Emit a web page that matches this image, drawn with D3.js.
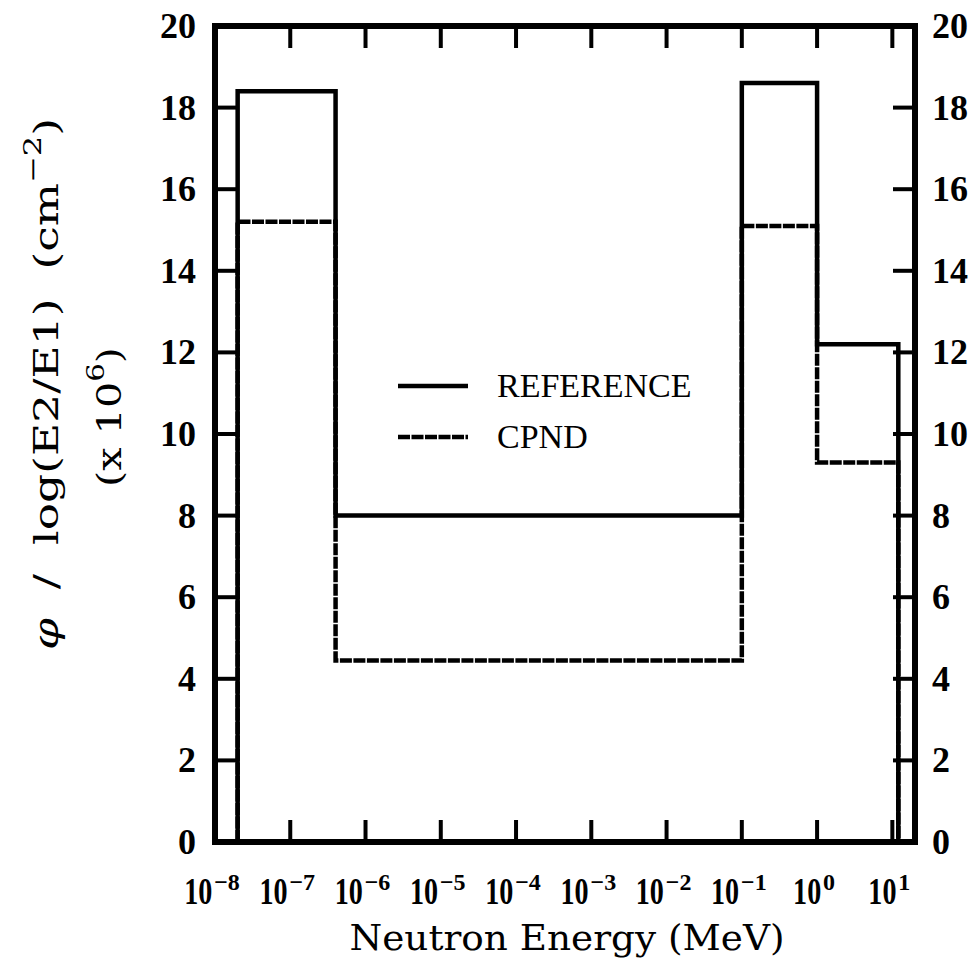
<!DOCTYPE html>
<html>
<head>
<meta charset="utf-8">
<script src="https://cdn.jsdelivr.net/npm/d3@7"></script>
<style>
    body { margin: 0; background: #fff; }
    svg { display: block; }
</style>
</head>
<body>
<svg id="chart" width="980" height="971"></svg>
<script>
// energy group boundaries (MeV) and fluence per unit lethargy (x 10^6 cm^-2)
var binEdges = [2e-8, 4e-7, 0.1, 1, 12];
var referenceValues = [18.4, 8.0, 18.6, 12.2];
var cpndValues = [15.2, 4.45, 15.1, 9.3];
var xTickExponents = [-8, -7, -6, -5, -4, -3, -2, -1, 0, 1];
var yTicks = [0, 2, 4, 6, 8, 10, 12, 14, 16, 18, 20];
var seriesNames = ["REFERENCE", "CPND"];

var svg = d3.select("#chart");
var plotLeft = 215, plotRight = 915, plotTop = 26, plotBottom = 842;

var x = d3.scaleLog().domain([1e-8, 20]).range([plotLeft, plotRight]);
var y = d3.scaleLinear().domain([0, 20]).range([plotBottom, plotTop]);

//histogram step outline
function stepPoints(values) {
    var pts = [[binEdges[0], 0]];
    for (var i = 0; i < values.length; i++) {
        pts.push([binEdges[i], values[i]]);
        pts.push([binEdges[i + 1], values[i]]);
    }
    pts.push([binEdges[binEdges.length - 1], 0]);
    return pts;
}
var line = d3.line()
    .x(function (d) { return x(d[0]); })
    .y(function (d) { return y(d[1]); });

var series = [
    { name: seriesNames[0], values: referenceValues, dash: null },
    { name: seriesNames[1], values: cpndValues, dash: "12,1.5" }
];

svg.selectAll("path.hist")
    .data(series)
    .enter()
    .append("path")
    .attr("class", "hist")
    .attr("d", function (d) { return line(stepPoints(d.values)); })
    .attr("fill", "none")
    .attr("stroke", "#000")
    .attr("stroke-width", 4.5)
    .attr("stroke-dasharray", function (d) { return d.dash; });

//inward ticks
var tickLen = 22;
xTickExponents.forEach(function (e) {
    var px = x(Math.pow(10, e));
    [[plotBottom, plotBottom - tickLen], [plotTop, plotTop + tickLen]].forEach(function (p) {
        svg.append("line")
            .attr("x1", px).attr("x2", px)
            .attr("y1", p[0]).attr("y2", p[1])
            .attr("stroke", "#000").attr("stroke-width", 4);
    });
});
yTicks.forEach(function (v) {
    var py = y(v);
    [[plotLeft, plotLeft + tickLen], [plotRight, plotRight - tickLen]].forEach(function (p) {
        svg.append("line")
            .attr("x1", p[0]).attr("x2", p[1])
            .attr("y1", py).attr("y2", py)
            .attr("stroke", "#000").attr("stroke-width", 4);
    });
});

//frame
svg.append("rect")
    .attr("x", plotLeft).attr("y", plotTop)
    .attr("width", plotRight - plotLeft).attr("height", plotBottom - plotTop)
    .attr("fill", "none")
    .attr("stroke", "#000")
    .attr("stroke-width", 6);

//y tick labels, both sides
yTicks.forEach(function (v) {
    svg.append("text")
        .attr("x", 196).attr("y", y(v) + 12)
        .attr("text-anchor", "end")
        .style("font-family", "Liberation Serif")
        .style("font-weight", "bold")
        .style("font-size", "36px")
        .text(v);
    svg.append("text")
        .attr("x", 932).attr("y", y(v) + 12)
        .style("font-family", "Liberation Serif")
        .style("font-weight", "bold")
        .style("font-size", "36px")
        .text(v);
});

//x tick labels 10^n
xTickExponents.forEach(function (e) {
    var px = x(Math.pow(10, e));
    var g = svg.append("g");
    var sup = g.append("text")
        .attr("y", 890)
        .style("font-family", "Liberation Serif")
        .style("font-weight", "bold")
        .style("font-size", "24px")
        .text(e < 0 ? "\u2212" + (-e) : String(e));
    var supW = sup.node().getComputedTextLength();
    var baseW = 28;
    var start = px - (baseW + 2 + supW) / 2 - 3;
    g.append("text")
        .attr("transform", "translate(" + start + ",904) scale(0.74,1)")
        .style("font-family", "Liberation Serif")
        .style("font-weight", "bold")
        .style("font-size", "38px")
        .text("10");
    sup.attr("x", start + baseW + 2);
});

//axis titles
svg.append("text")
    .attr("x", 567).attr("y", 950)
    .attr("text-anchor", "middle")
    .attr("textLength", 435)
    .attr("lengthAdjust", "spacingAndGlyphs")
    .style("font-family", "DejaVu Serif")
    .style("font-size", "36px")
    .text("Neutron Energy (MeV)");

var yTitle = svg.append("text")
    .attr("transform", "translate(58,384) rotate(-90)")
    .attr("text-anchor", "middle")
    .attr("textLength", 532)
    .attr("lengthAdjust", "spacingAndGlyphs")
    .style("font-family", "DejaVu Serif")
    .style("font-size", "34px")
    .style("white-space", "pre");
yTitle.append("tspan").style("font-style", "italic").text("\u03c6");
yTitle.append("tspan").text("  /  log(E2/E1)  (cm");
yTitle.append("tspan").attr("dy", -17).style("font-size", "24px").text("\u22122");
yTitle.append("tspan").attr("dy", 17).text(")");

var yTitle2 = svg.append("text")
    .attr("transform", "translate(121,417) rotate(-90)")
    .attr("text-anchor", "middle")
    .attr("textLength", 140)
    .attr("lengthAdjust", "spacingAndGlyphs")
    .style("font-family", "DejaVu Serif")
    .style("font-size", "34px")
    .style("white-space", "pre");
yTitle2.append("tspan").text("(x 10");
yTitle2.append("tspan").attr("dy", -17).style("font-size", "24px").text("6");
yTitle2.append("tspan").attr("dy", 17).text(")");

//legend
var legend = svg.selectAll("g.legend")
    .data(series)
    .enter()
    .append("g")
    .attr("class", "legend")
    .attr("transform", function (d, i) { return "translate(0," + (386 + 51 * i) + ")"; });
legend.append("line")
    .attr("x1", 398).attr("x2", 468)
    .attr("y1", 0).attr("y2", 0)
    .attr("stroke", "#000")
    .attr("stroke-width", 4.5)
    .attr("stroke-dasharray", function (d) { return d.dash; });
legend.append("text")
    .attr("x", 497).attr("y", 11)
    .style("font-family", "Liberation Serif")
    .style("font-size", "34px")
    .text(function (d) { return d.name; });
</script>
</body>
</html>
